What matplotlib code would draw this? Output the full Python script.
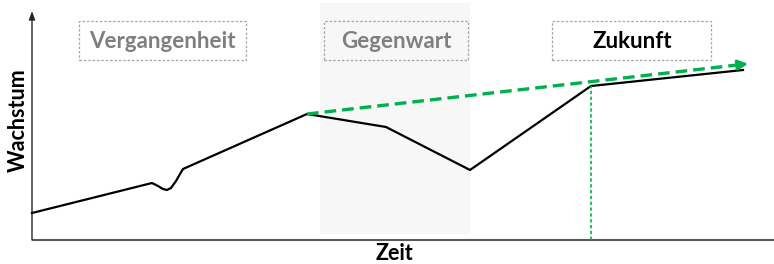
import matplotlib
matplotlib.use("Agg")
import matplotlib.pyplot as plt
from matplotlib.patches import Rectangle

# Data (time / growth units)
time = [0, 120, 126, 131, 135, 139, 144, 148, 151, 275, 354, 438, 559, 711]
growth = [27, 57, 54, 51, 50, 52, 59, 66, 71, 126, 113, 70, 154, 170]

trend_time = [275, 714]
trend_growth = [126, 176]

forecast_time = 559
forecast_growth = 154

present_span = [288, 438]

phase_labels = ["Vergangenheit", "Gegenwart", "Zukunft"]
phase_x = [130, 364, 600]
phase_boxes = [(47, 214), (292, 436), (520, 679)]
phase_colors = ["#7f7f7f", "#7f7f7f", "#000000"]

x_label = "Zeit"
y_label = "Wachstum"

green = "#00b050"
font = ["Lato", "DejaVu Sans"]

fig = plt.figure(figsize=(7.74, 2.64), dpi=100)
ax = fig.add_axes([0, 0, 1, 1])
ax.set_xlim(-32, 742)
ax.set_ylim(-24, 240)
ax.axis("off")

# Present shaded region
ax.add_patch(Rectangle((present_span[0], 6), present_span[1] - present_span[0], 231,
                       facecolor="#f7f7f7", edgecolor="none", zorder=0))

# Axes
ax.plot([0, 742], [0, 0], color="#595959", lw=1.5, zorder=2, solid_capstyle="butt")
ax.annotate("", xy=(0, 229), xytext=(0, 0),
            arrowprops=dict(arrowstyle="-|>,head_length=0.5,head_width=0.18",
                            color="#262626", lw=1.0, shrinkA=0, shrinkB=0))

# Growth line
ax.plot(time, growth, color="black", lw=1.6, zorder=3, solid_joinstyle="round")

# Green trend dashed arrow
ax.plot(trend_time, trend_growth, color=green, lw=2.4, dashes=(3.5, 1.8), zorder=4)
dx = trend_time[1] - trend_time[0]
dy = trend_growth[1] - trend_growth[0]
ax.annotate("", xy=(trend_time[1] + 2, trend_growth[1] + 2 * dy / dx),
            xytext=(trend_time[1] - 8, trend_growth[1] - 8 * dy / dx),
            arrowprops=dict(arrowstyle="-|>,head_length=0.6,head_width=0.3",
                            color=green, lw=2.0, shrinkA=0, shrinkB=0), zorder=4)

# Vertical forecast line
ax.plot([forecast_time, forecast_time], [0, forecast_growth], color=green, lw=1.2,
        dashes=(2, 1.5), zorder=3)

# Phase label boxes
for label, cx, (x0, x1), col in zip(phase_labels, phase_x, phase_boxes, phase_colors):
    ax.add_patch(Rectangle((x0, 180), x1 - x0, 39, facecolor="none", edgecolor="#a6a6a6",
                           lw=0.9, linestyle=(0, (2, 1.5)), zorder=2))
    ax.text(cx, 199, label, ha="center", va="center", fontsize=16, fontweight="bold",
            color=col, family=font, zorder=5)

ax.text(362, -13, x_label, ha="center", va="center", fontsize=15.5, fontweight="bold",
        color="black", family=font)
ax.text(-14, 120, y_label, ha="center", va="center", fontsize=15.5, fontweight="bold",
        color="black", rotation=90, family=font)

fig.savefig("out.png", dpi=100)
